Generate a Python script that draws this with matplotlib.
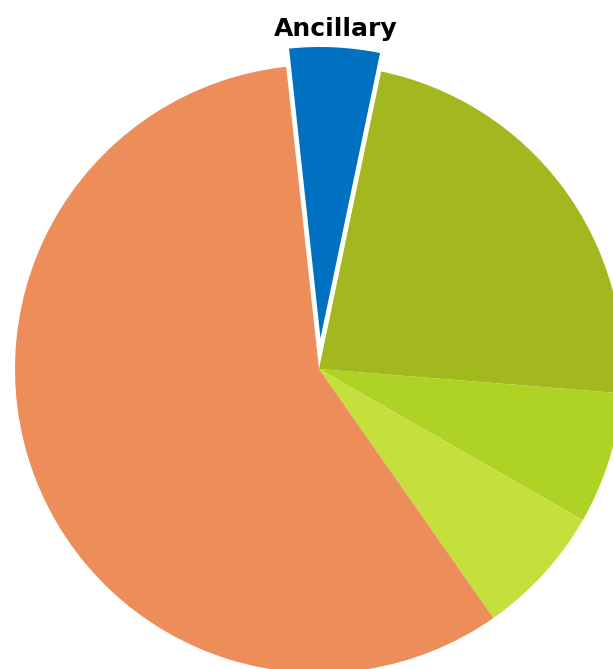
import matplotlib

matplotlib.use('Agg')

from matplotlib import pyplot as plt

# 데이터 (그림에서 읽은 비율, %)
labels = ['Ancillary', '', '', '', '']
shares = [5, 23, 7, 7, 58]
colors = ['#0070C0', '#A3B71E', '#AFD325', '#C5E03C', '#ED8D59']
explode = [0.065, 0, 0, 0, 0]

fig = plt.figure(figsize=(6.13, 6.69), dpi=100)
ax = fig.add_axes([0, 0, 1, 1])

wedges, texts = ax.pie(shares, labels=labels, colors=colors, explode=explode,
                       startangle=96.2, counterclock=False, radius=1,
                       labeldistance=1.055,
                       wedgeprops={'linewidth': 0},
                       textprops={'ha': 'center', 'fontsize': 18,
                                  'fontweight': 'bold', 'family': 'DejaVu Sans'})

# 파란 조각만 흰 테두리
wedges[0].set_edgecolor('white')
wedges[0].set_linewidth(2.5)

# 원 중심이 (319, 369)px, 반지름 304px 이 되도록 축 범위 설정
r_px = 304.0
ax.set_xlim(-319 / r_px, (613 - 319) / r_px)
ax.set_ylim(-(669 - 369) / r_px, 369 / r_px)
ax.set_aspect('auto')
ax.axis('off')

plt.savefig('out.png', dpi=100)
plt.close()
